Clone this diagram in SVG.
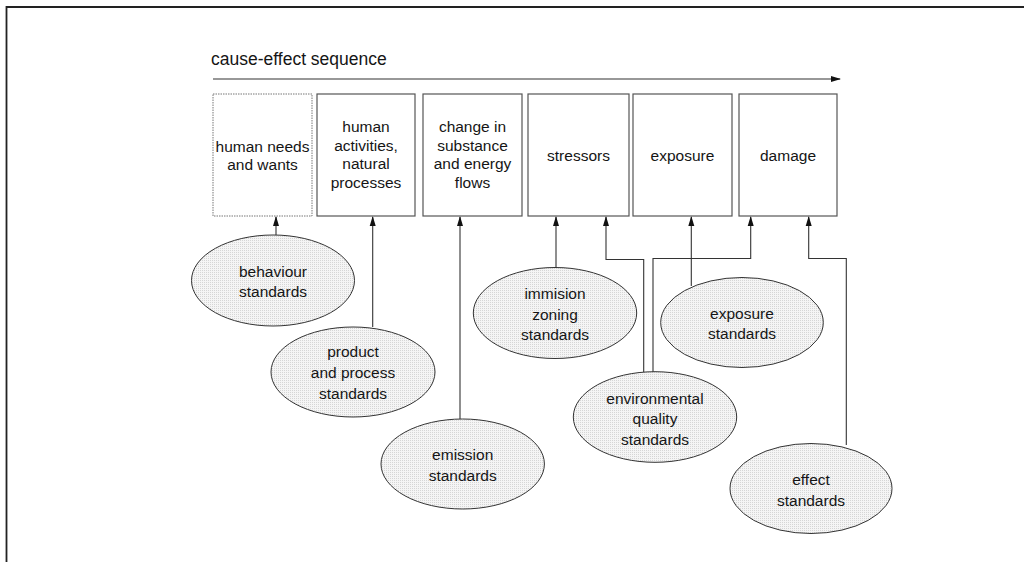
<svg xmlns="http://www.w3.org/2000/svg" width="1024" height="562" viewBox="0 0 1024 562">
<style>
text{font-family:"Liberation Sans",Arial,sans-serif;font-size:15.5px;fill:#151515;text-anchor:middle}
.title{font-size:17.5px;text-anchor:start}
.box{fill:#fff;stroke:#555;stroke-width:1.2}
.dot{fill:#fff;stroke:#777;stroke-width:1;stroke-dasharray:1.5,1}
.ell{fill:url(#stip);stroke:#333;stroke-width:1}
.c{fill:none;stroke:#333;stroke-width:1.1}
</style>
<defs>
<pattern id="stip" width="2" height="2" patternUnits="userSpaceOnUse">
<rect width="2" height="2" fill="#f5f5f5"/>
<rect width="1" height="1" fill="#d6d6d6"/>
</pattern>
<marker id="ah" markerWidth="10" markerHeight="8" refX="9" refY="4" orient="auto" markerUnits="userSpaceOnUse">
<path d="M0,1 L10,4 L0,7 Z" fill="#111"/>
</marker>
</defs>
<rect width="1024" height="562" fill="#fff"/>
<path d="M6.5,562 V7 H1024" fill="none" stroke="#222" stroke-width="1.8"/>
<text class="title" x="211" y="65">cause-effect sequence</text>
<g id="connectors">
<line class="c" x1="213" y1="79" x2="840" y2="79" marker-end="url(#ah)"/>
<line class="c" x1="276" y1="235" x2="276" y2="217" marker-end="url(#ah)"/>
<line class="c" x1="372.7" y1="327" x2="372.7" y2="217" marker-end="url(#ah)"/>
<line class="c" x1="460" y1="419" x2="460" y2="217" marker-end="url(#ah)"/>
<line class="c" x1="556" y1="268" x2="556" y2="217" marker-end="url(#ah)"/>
<polyline class="c" points="643.7,372 643.7,259.5 606,259.5 606,217" marker-end="url(#ah)"/>
<polyline class="c" points="653,372 653,258.5 750.7,258.5 750.7,217" marker-end="url(#ah)"/>
<line class="c" x1="691.3" y1="286" x2="691.3" y2="217" marker-end="url(#ah)"/>
<polyline class="c" points="846.3,445 846.3,258.5 808.7,258.5 808.7,217" marker-end="url(#ah)"/>
</g>
<g id="box-needs"><rect class="dot" x="213" y="94" width="99" height="122"/><text x="262.5" y="152">human needs</text><text x="262.5" y="170">and wants</text></g>
<g id="box-activities"><rect class="box" x="317" y="94" width="98" height="122"/><text x="366" y="132">human</text><text x="366" y="150.5">activities,</text><text x="366" y="169">natural</text><text x="366" y="187.5">processes</text></g>
<g id="box-change"><rect class="box" x="423" y="94" width="99" height="122"/><text x="472.5" y="132">change in</text><text x="472.5" y="150.5">substance</text><text x="472.5" y="169">and energy</text><text x="472.5" y="187.5">flows</text></g>
<g id="box-stressors"><rect class="box" x="528" y="94" width="101" height="122"/><text x="578.5" y="160.5">stressors</text></g>
<g id="box-exposure"><rect class="box" x="633" y="94" width="99" height="122"/><text x="682.5" y="160.5">exposure</text></g>
<g id="box-damage"><rect class="box" x="739" y="94" width="98" height="122"/><text x="788" y="160.5">damage</text></g>
<g id="ell-behaviour"><ellipse class="ell" cx="273" cy="280.5" rx="81.5" ry="45.5"/><text x="273" y="276.5">behaviour</text><text x="273" y="297">standards</text></g>
<g id="ell-product"><ellipse class="ell" cx="353" cy="372" rx="82" ry="45"/><text x="353" y="356.5">product</text><text x="353" y="377.5">and process</text><text x="353" y="398.5">standards</text></g>
<g id="ell-emission"><ellipse class="ell" cx="462.7" cy="464" rx="81.7" ry="45"/><text x="462.7" y="460">emission</text><text x="462.7" y="480.5">standards</text></g>
<g id="ell-immision"><ellipse class="ell" cx="555" cy="313" rx="81.7" ry="45.5"/><text x="555" y="299">immision</text><text x="555" y="319.5">zoning</text><text x="555" y="340">standards</text></g>
<g id="ell-exposure"><ellipse class="ell" cx="742" cy="322.5" rx="81.3" ry="45"/><text x="742" y="318.5">exposure</text><text x="742" y="339">standards</text></g>
<g id="ell-envquality"><ellipse class="ell" cx="655" cy="417" rx="81.7" ry="45.3"/><text x="655" y="403.5">environmental</text><text x="655" y="424">quality</text><text x="655" y="444.5">standards</text></g>
<g id="ell-effect"><ellipse class="ell" cx="811" cy="488.5" rx="81" ry="45"/><text x="811" y="485">effect</text><text x="811" y="506">standards</text></g>
</svg>
